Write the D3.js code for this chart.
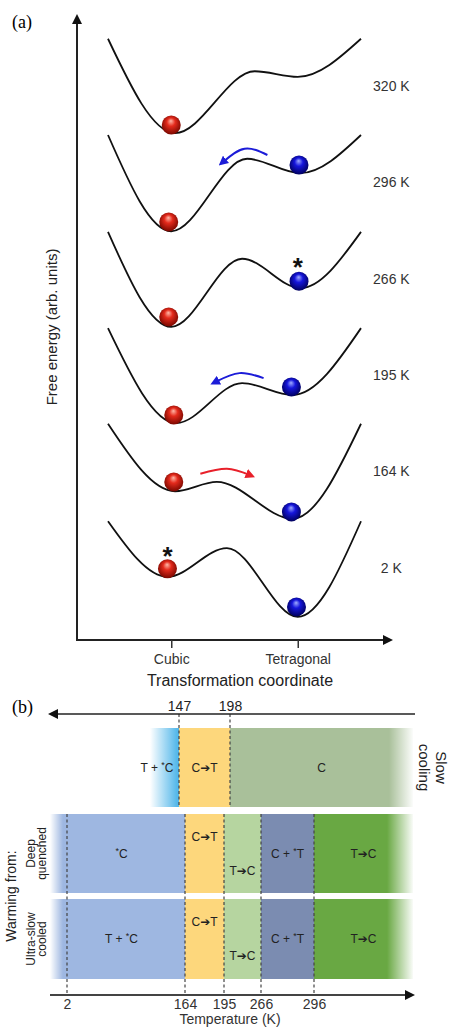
<!DOCTYPE html>
<html>
<head>
<meta charset="utf-8">
<script src="https://cdn.jsdelivr.net/npm/d3@7"></script>
<style>
  body { margin: 0; background: #fff; }
  svg { display: block; }
  text { font-family: "Liberation Sans", "DejaVu Sans", Arial, sans-serif; }
</style>
</head>
<body>
<div id="chart"></div>
<script>
// ---------- panel (a): free energy landscapes ----------
const temps = ["320 K", "296 K", "266 K", "195 K", "164 K", "2 K"];
const coordTicks = ["Cubic", "Tetragonal"];

// transformation coordinate (0 = cubic, 1 = tetragonal) of each curve's knots
const curveCoords = [
  [-0.5, 0.03, 0.66, 1.0, 1.5],
  [-0.5, 0.0, 0.6, 1.02, 1.5],
  [-0.5, 0.0, 0.56, 1.02, 1.5],
  [-0.5, 0.04, 0.56, 0.96, 1.5],
  [-0.5, 0.03, 0.36, 0.96, 1.5],
  [-0.5, -0.03, 0.44, 1.0, 1.5]
];
// free energy (arb. units, stacked) at those knots
const curveEnergies = [
  [96.2, 81.1, 91.0, 90.1, 96.2],
  [80.8, 65.4, 77.0, 74.7, 80.8],
  [65.3, 50.1, 61.0, 56.3, 65.3],
  [49.9, 34.7, 41.1, 39.2, 49.9],
  [34.6, 23.8, 25.3, 19.4, 34.6],
  [19.0, 10.1, 14.7, 3.7, 19.0]
];

// balls: [coordinate, energy]
const cubicBalls = [[0.0, 82.4], [-0.02, 66.9], [-0.02, 51.7], [0.02, 36.0], [0.02, 25.3], [-0.03, 11.4]];
const tetraBalls = [null, [1.01, 76.0], [1.01, 57.4], [0.95, 40.5], [0.95, 20.5], [0.99, 5.3]];

// asterisks marking the starting state
const starTemps = ["266 K", "2 K"];
const starPoints = [[1.0, 60.6], [-0.03, 14.4]];

// transition arrows: [start, peak, end] points
const arrowTemps = ["296 K", "195 K", "164 K"];
const arrowKinds = ["tetra", "tetra", "cubic"];
const arrowPoints = [
  [[0.76, 77.6], [0.58, 78.6], [0.41, 76.5]],
  [[0.73, 41.9], [0.54, 42.7], [0.35, 41.3]],
  [[0.23, 26.6], [0.44, 27.4], [0.62, 26.4]]
];

// ---------- panel (b): phase sequences ----------
const slowBreaks = [147, 198];
const slowLabels = ["T + *C", "C\u2794T", "C"];
const warmTicks = [2, 164, 195, 266, 296];
const warmBreaks = [164, 195, 266, 296];
const rowNames = [["Deep", "quenched"], ["Ultra-slow", "cooled"]];
const rowLabels = [
  ["*C", "C\u2794T", "T\u2794C", "C + *T", "T\u2794C"],
  ["T + *C", "C\u2794T", "T\u2794C", "C + *T", "T\u2794C"]
];
const labelShift = [0, -1, 1, 0, 0]; // -1 upper, +1 lower part of the band

const slowColors = ["#55b8ea", "#fdd77c", "#a9c09a"];
const warmColors = ["#9eb7e1", "#fdd77c", "#b6d5a0", "#7b8cb1", "#69a843"];

const W = 451, H = 1027;
const svg = d3.select("#chart").append("svg")
  .attr("width", W).attr("height", H);

const defs = svg.append("defs");

function ballGradient(id, hi, mid, edge) {
  const g = defs.append("radialGradient").attr("id", id)
    .attr("cx", "50%").attr("cy", "45%").attr("r", "55%")
    .attr("fx", "48%").attr("fy", "28%");
  g.append("stop").attr("offset", "0%").attr("stop-color", hi);
  g.append("stop").attr("offset", "40%").attr("stop-color", mid);
  g.append("stop").attr("offset", "100%").attr("stop-color", edge);
}
ballGradient("ballRed", "#ffb8a8", "#e42a1c", "#7a0800");
ballGradient("ballBlue", "#a0acff", "#1616dc", "#00005e");

function marker(id, color, size, units) {
  defs.append("marker").attr("id", id)
    .attr("viewBox", "0 0 10 10")
    .attr("refX", units === "userSpaceOnUse" ? 0 : 4).attr("refY", 5)
    .attr("markerWidth", size).attr("markerHeight", size)
    .attr("markerUnits", units)
    .attr("orient", "auto")
    .append("path").attr("d", "M0,0 L10,5 L0,10 z").attr("fill", color);
}
marker("headBlue", "#1c1cd8", 4.8, "strokeWidth");
marker("headRed", "#e8202a", 4.8, "strokeWidth");
marker("headAxis", "#111", 10, "userSpaceOnUse");

function fadeGradient(id, dir) {
  const g = defs.append("linearGradient").attr("id", id)
    .attr("x1", "0%").attr("x2", "100%").attr("y1", "0%").attr("y2", "0%");
  g.append("stop").attr("offset", "0%").attr("stop-color", "#fff").attr("stop-opacity", dir === "left" ? 1 : 0);
  g.append("stop").attr("offset", "100%").attr("stop-color", "#fff").attr("stop-opacity", dir === "left" ? 0 : 1);
}
fadeGradient("fadeLeft", "left");
fadeGradient("fadeRight", "right");

// ================= PANEL (a) =================
const xA = d3.scaleLinear().domain([-0.5, 1.5]).range([108, 361]);
const yA = d3.scaleLinear().domain([0, 100]).range([640, 15]);
const axisX0 = 77;
const gA = svg.append("g");

gA.append("text")
  .attr("x", 12).attr("y", 28)
  .style("font-family", "'Liberation Serif', 'DejaVu Serif', serif")
  .style("font-size", "18px")
  .text("(a)");

// axes with arrowheads
gA.append("line")
  .attr("x1", axisX0).attr("y1", yA(0) + 1)
  .attr("x2", axisX0).attr("y2", 24)
  .attr("stroke", "#222").attr("stroke-width", 2)
  .attr("marker-end", "url(#headAxis)");
gA.append("line")
  .attr("x1", axisX0 - 1).attr("y1", yA(0))
  .attr("x2", 383).attr("y2", yA(0))
  .attr("stroke", "#222").attr("stroke-width", 2)
  .attr("marker-end", "url(#headAxis)");

const xAxisA = gA.append("g")
  .attr("transform", `translate(0,${yA(0)})`)
  .call(d3.axisBottom(xA).tickValues([0, 1]).tickFormat((d, i) => coordTicks[i])
    .tickSize(8).tickPadding(6));
xAxisA.select(".domain").remove();
xAxisA.selectAll(".tick line").attr("stroke", "#333").attr("stroke-width", 1.5);
xAxisA.selectAll(".tick text").attr("fill", "#333").style("font-size", "14px")
  .style("font-family", "'Liberation Sans', Arial, sans-serif");

gA.append("text")
  .attr("x", 240).attr("y", 686)
  .attr("text-anchor", "middle")
  .style("font-size", "16px").attr("fill", "#222")
  .text("Transformation coordinate");

gA.append("text")
  .attr("transform", "translate(57,327) rotate(-90)")
  .attr("text-anchor", "middle")
  .style("font-size", "15px").attr("fill", "#222")
  .text("Free energy (arb. units)");

// energy curves
const energyLine = d3.line()
  .x(d => xA(d[0]))
  .y(d => yA(d[1]))
  .curve(d3.curveMonotoneX);

temps.forEach((t, i) => {
  const pts = curveCoords[i].map((c, j) => [c, curveEnergies[i][j]]);
  gA.append("path")
    .attr("d", energyLine(pts))
    .attr("fill", "none")
    .attr("stroke", "#111")
    .attr("stroke-width", 1.8);

  gA.append("text")
    .attr("x", xA(1.74))
    .attr("y", yA(curveEnergies[i][0]) + 52)
    .attr("text-anchor", "middle")
    .style("font-size", "14px").attr("fill", "#333")
    .text(t);
});

// transition arrows
const arcLine = d3.line().x(d => xA(d[0])).y(d => yA(d[1])).curve(d3.curveNatural);
arrowTemps.forEach((t, i) => {
  const isRed = arrowKinds[i] === "cubic";
  gA.append("path")
    .attr("d", arcLine(arrowPoints[i]))
    .attr("fill", "none")
    .attr("stroke", isRed ? "#e8202a" : "#1c1cd8")
    .attr("stroke-width", 2)
    .attr("marker-end", isRed ? "url(#headRed)" : "url(#headBlue)");
});

// balls
const ballR = 9.5;
cubicBalls.forEach(b => {
  gA.append("circle").attr("cx", xA(b[0])).attr("cy", yA(b[1])).attr("r", ballR)
    .attr("fill", "url(#ballRed)");
});
tetraBalls.forEach(b => {
  if (!b) return;
  gA.append("circle").attr("cx", xA(b[0])).attr("cy", yA(b[1])).attr("r", ballR)
    .attr("fill", "url(#ballBlue)");
});

starPoints.forEach(p => {
  gA.append("text")
    .attr("x", xA(p[0])).attr("y", yA(p[1]) + 15)
    .attr("text-anchor", "middle")
    .style("font-size", "26px").style("font-weight", "bold")
    .attr("fill", "#111")
    .text("*");
});

// ================= PANEL (b) =================
const gB = svg.append("g");
const barX0 = 50, barX1 = 413;
const slowX0 = 150;
const topAxisY = 714, botAxisY = 995;
const slowRow = { y: 728, h: 79 };
const warmRowsY = [{ y: 814, h: 79 }, { y: 899, h: 80 }];

const xSlow = d3.scaleLinear().domain(slowBreaks).range([179, 230]);
const xWarm = d3.scaleLinear().domain(warmTicks).range([67, 185, 224, 261, 314]);

gB.append("text")
  .attr("x", 12).attr("y", 713)
  .style("font-family", "'Liberation Serif', 'DejaVu Serif', serif")
  .style("font-size", "18px")
  .text("(b)");

// label with raised asterisks
function phaseLabel(sel, x, y, label) {
  const t = sel.append("text")
    .attr("x", x).attr("y", y)
    .attr("text-anchor", "middle")
    .style("font-size", "12px").attr("fill", "#222");
  const parts = label.split("*");
  parts.forEach((p, k) => {
    if (k > 0) {
      t.append("tspan").attr("dy", -4).style("font-size", "9px").text("*");
      t.append("tspan").attr("dy", 4).text(p);
    } else if (p.length) {
      t.append("tspan").text(p);
    }
  });
  return t;
}

// slow cooling bar
const slowEdges = [slowX0, xSlow(slowBreaks[0]), xSlow(slowBreaks[1]), barX1];
slowColors.forEach((c, i) => {
  gB.append("rect")
    .attr("x", slowEdges[i]).attr("y", slowRow.y)
    .attr("width", slowEdges[i + 1] - slowEdges[i]).attr("height", slowRow.h)
    .attr("fill", c);
});
gB.append("rect").attr("x", slowX0).attr("y", slowRow.y)
  .attr("width", 27).attr("height", slowRow.h).attr("fill", "url(#fadeLeft)");
gB.append("rect").attr("x", barX1 - 24).attr("y", slowRow.y)
  .attr("width", 25).attr("height", slowRow.h).attr("fill", "url(#fadeRight)");

slowLabels.forEach((l, i) => {
  const x = i === 0 ? slowEdges[1] - 22 : (slowEdges[i] + slowEdges[i + 1]) / 2;
  phaseLabel(gB, x, slowRow.y + slowRow.h / 2 + 4, l);
});

// warming rows
const warmEdges = [barX0].concat(warmBreaks.map(xWarm), [barX1]);
warmRowsY.forEach((r, ri) => {
  warmColors.forEach((c, i) => {
    gB.append("rect")
      .attr("x", warmEdges[i]).attr("y", r.y)
      .attr("width", warmEdges[i + 1] - warmEdges[i]).attr("height", r.h)
      .attr("fill", c);
  });
  gB.append("rect").attr("x", barX0).attr("y", r.y)
    .attr("width", 13).attr("height", r.h).attr("fill", "url(#fadeLeft)");
  gB.append("rect").attr("x", barX1 - 26).attr("y", r.y)
    .attr("width", 27).attr("height", r.h).attr("fill", "url(#fadeRight)");

  const cy = r.y + r.h / 2 + 4;
  rowLabels[ri].forEach((l, i) => {
    const x = (warmEdges[i] + warmEdges[i + 1]) / 2 + (i === 0 ? 4 : 0);
    phaseLabel(gB, x, cy + labelShift[i] * 17, l);
  });

  // row name, two rotated lines
  const nameT = gB.append("text")
    .attr("transform", `translate(35,${r.y + r.h / 2}) rotate(-90)`)
    .attr("text-anchor", "middle")
    .style("font-size", "12px").attr("fill", "#222");
  nameT.append("tspan").attr("x", 0).attr("dy", 0).text(rowNames[ri][0]);
  nameT.append("tspan").attr("x", 0).attr("dy", 10.5).text(rowNames[ri][1]);
});

gB.append("text")
  .attr("transform", "translate(16,896) rotate(-90)")
  .attr("text-anchor", "middle")
  .style("font-size", "14px").attr("fill", "#222")
  .text("Warming from:");

const slowT = gB.append("text")
  .attr("transform", `translate(436,${slowRow.y + slowRow.h / 2}) rotate(90)`)
  .attr("text-anchor", "middle")
  .style("font-size", "15px").attr("fill", "#222");
slowT.append("tspan").attr("x", 0).attr("dy", 0).text("Slow");
slowT.append("tspan").attr("x", 0).attr("dy", 17).text("cooling");

// dashed boundaries
slowBreaks.forEach(b => {
  gB.append("line")
    .attr("x1", xSlow(b)).attr("x2", xSlow(b))
    .attr("y1", topAxisY).attr("y2", slowRow.y + slowRow.h)
    .attr("stroke", "#444").attr("stroke-width", 1.2)
    .attr("stroke-dasharray", "3,2.5");
});
warmTicks.forEach(b => {
  gB.append("line")
    .attr("x1", xWarm(b)).attr("x2", xWarm(b))
    .attr("y1", warmRowsY[0].y).attr("y2", botAxisY)
    .attr("stroke", "#444").attr("stroke-width", 1.2)
    .attr("stroke-dasharray", "3,2.5");
});

// top (cooling) axis, pointing left
gB.append("line")
  .attr("x1", 415).attr("y1", topAxisY)
  .attr("x2", 58).attr("y2", topAxisY)
  .attr("stroke", "#222").attr("stroke-width", 1.6)
  .attr("marker-end", "url(#headAxis)");
const topAx = gB.append("g")
  .attr("transform", `translate(0,${topAxisY})`)
  .call(d3.axisTop(xSlow).tickValues(slowBreaks).tickFormat(d3.format("d"))
    .tickSize(0).tickPadding(3));
topAx.select(".domain").remove();
topAx.selectAll(".tick text").attr("fill", "#222").style("font-size", "14px")
  .style("font-family", "'Liberation Sans', Arial, sans-serif");

// bottom (warming) axis
gB.append("line")
  .attr("x1", barX0).attr("y1", botAxisY)
  .attr("x2", 405).attr("y2", botAxisY)
  .attr("stroke", "#444").attr("stroke-width", 2)
  .attr("marker-end", "url(#headAxis)");
const botAx = gB.append("g")
  .attr("transform", `translate(0,${botAxisY})`)
  .call(d3.axisBottom(xWarm).tickValues(warmTicks).tickFormat(d3.format("d"))
    .tickSize(0).tickPadding(4));
botAx.select(".domain").remove();
botAx.selectAll(".tick text").attr("fill", "#333").style("font-size", "14px")
  .style("font-family", "'Liberation Sans', Arial, sans-serif");

gB.append("text")
  .attr("x", 230).attr("y", 1024)
  .attr("text-anchor", "middle")
  .style("font-size", "14px").attr("fill", "#333")
  .text("Temperature (K)");
</script>
</body>
</html>
